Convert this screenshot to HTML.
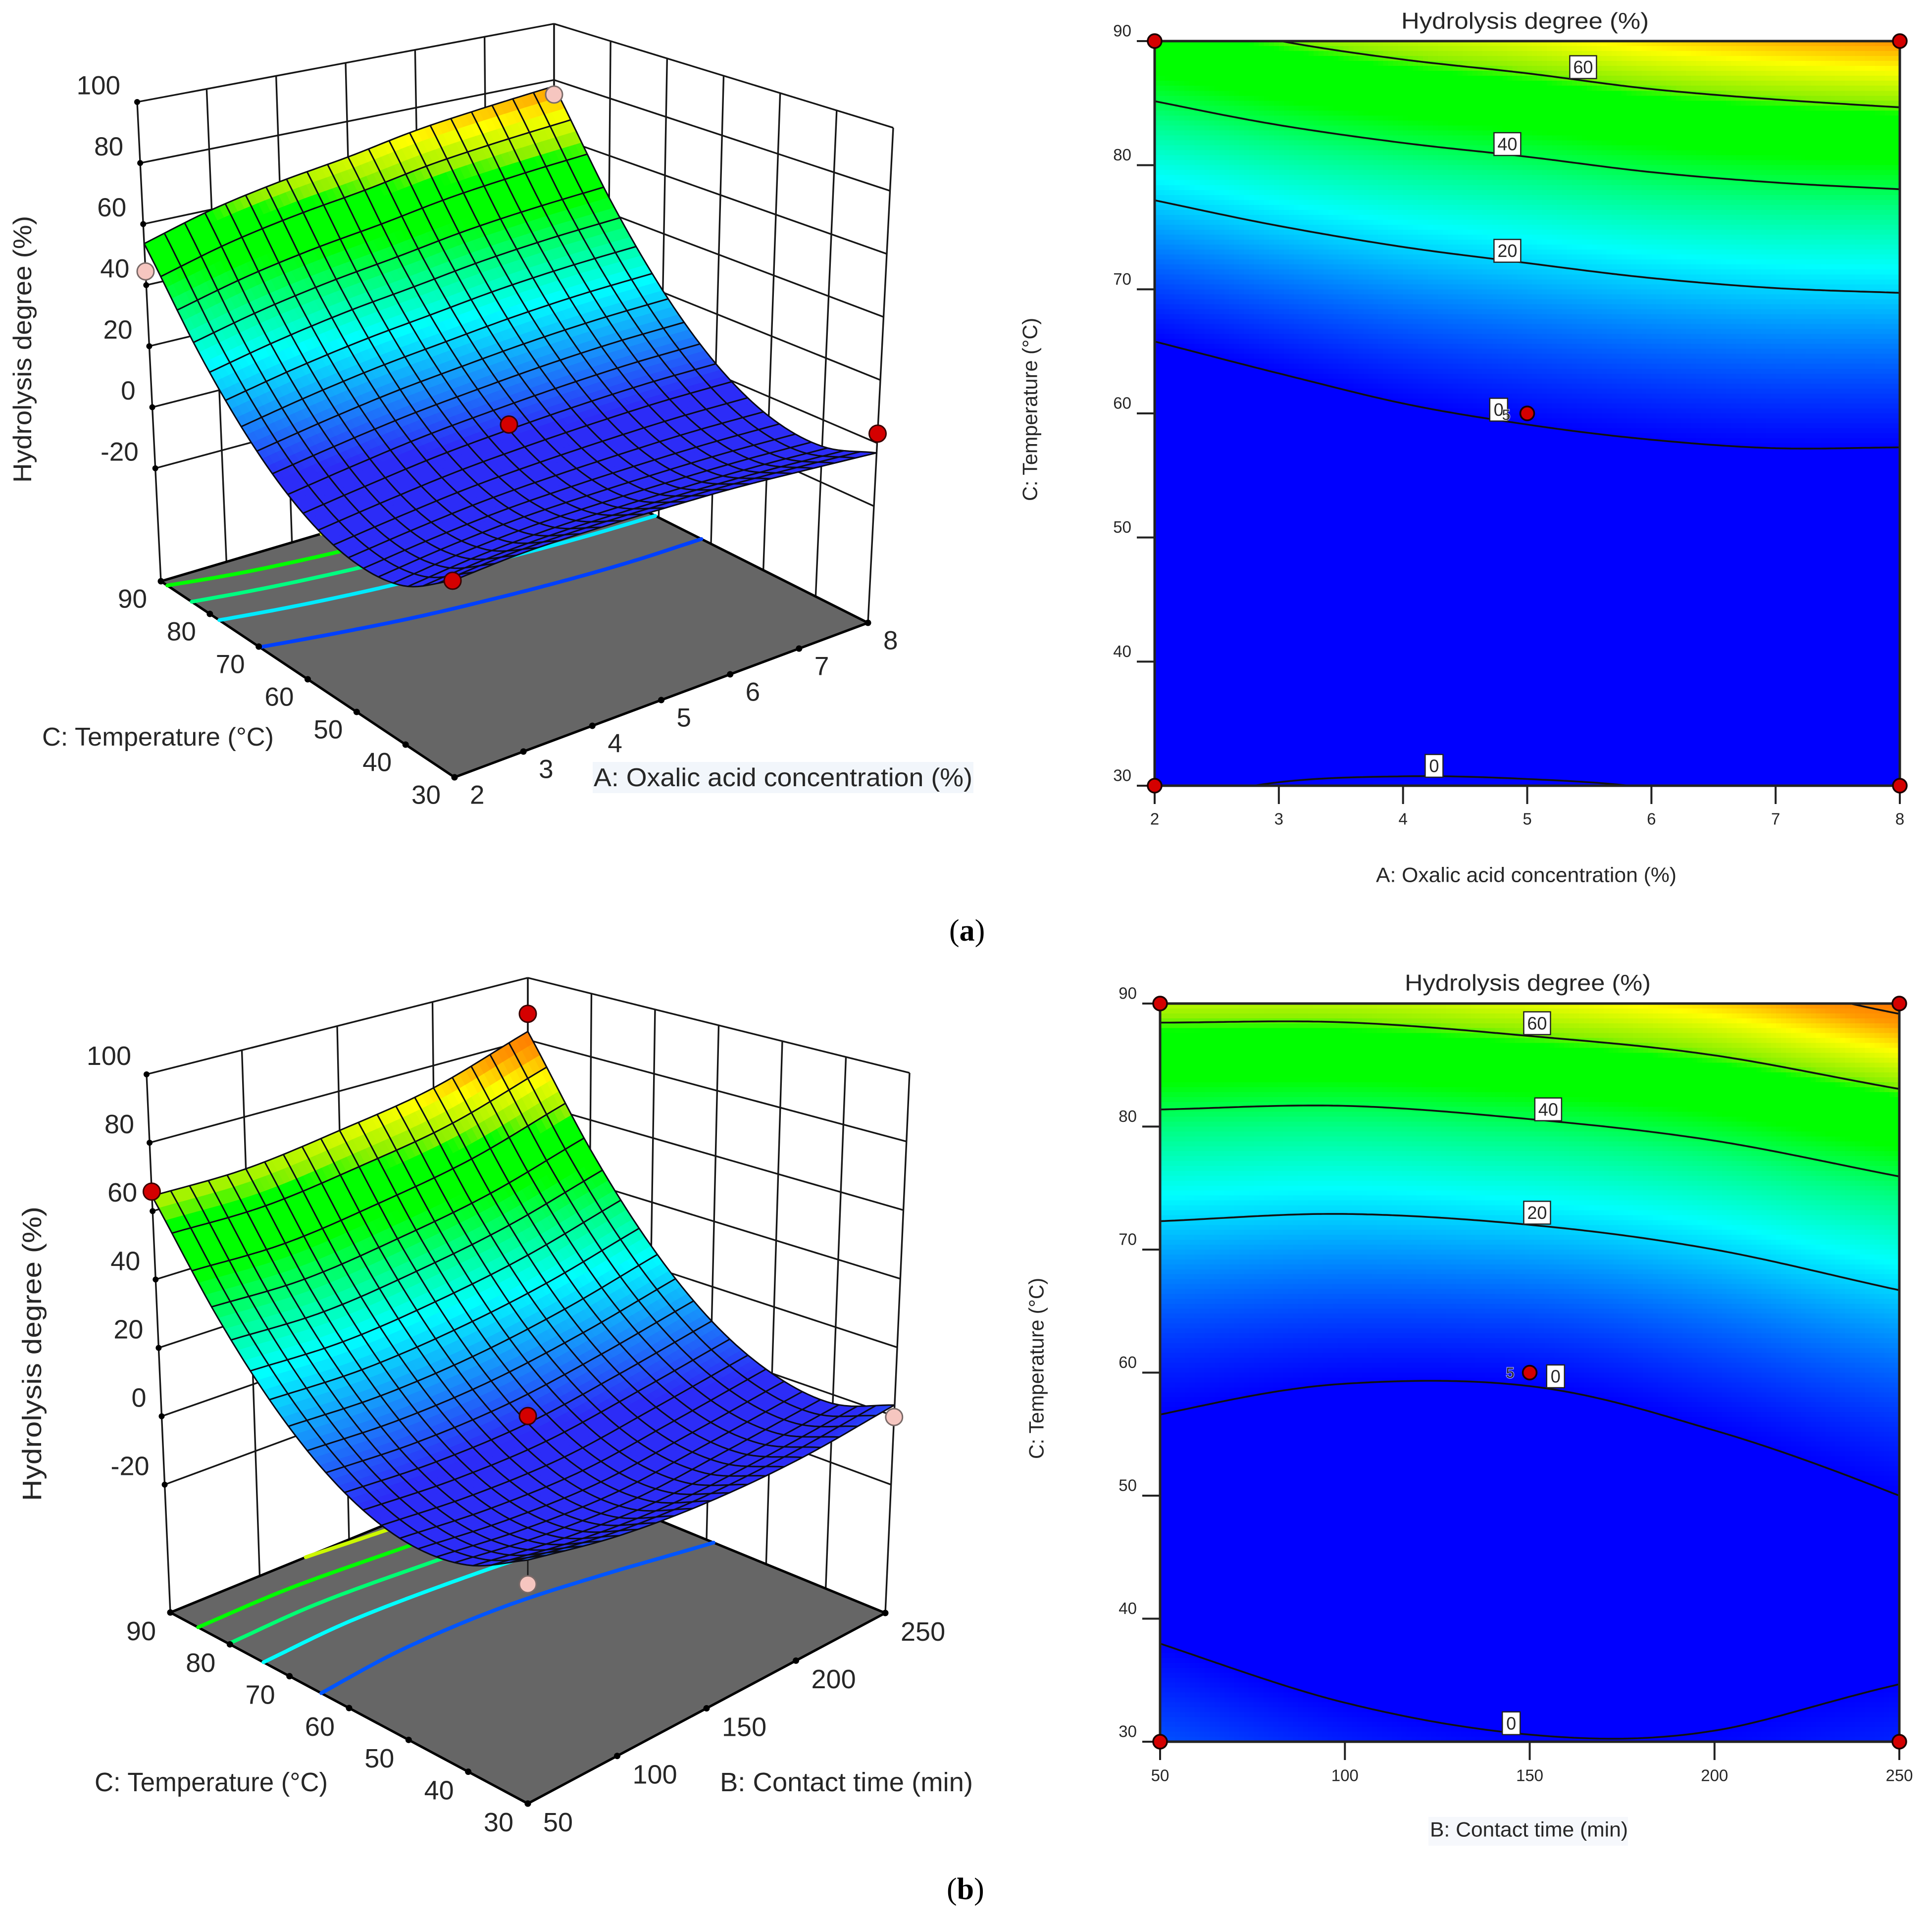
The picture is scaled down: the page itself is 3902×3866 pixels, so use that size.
<!DOCTYPE html>
<html lang="en">
<head>
<meta charset="utf-8">
<title>Hydrolysis degree response surfaces</title>
<style>
  html, body { margin: 0; padding: 0; background: #ffffff; }
  svg { display: block; }
  text { font-family: "Liberation Sans", sans-serif; fill: #262626; }
  .fig-label { font-family: "Liberation Serif", serif; fill: #000; font-size: 62px; }
</style>
</head>
<body>
<svg id="figure" xmlns="http://www.w3.org/2000/svg" width="3902" height="3866" viewBox="0 0 3902 3866">
  <rect x="0" y="0" width="3902" height="3866" fill="#ffffff"/>

  <g id="surface-a">
    <rect x="1197" y="1539" width="769" height="63" fill="#f2f6fb"/>
  </g>
  <text x="85" y="1488" dy=".35em" font-size="52" textLength="468" lengthAdjust="spacingAndGlyphs">C: Temperature (°C)</text>
  <text x="1199" y="1570" dy=".35em" font-size="52" textLength="765" lengthAdjust="spacingAndGlyphs">A: Oxalic acid concentration (%)</text>
  <text transform="translate(45,975) rotate(-90)" dy=".35em" font-size="52" textLength="539" lengthAdjust="spacingAndGlyphs">Hydrolysis degree  (%)</text>

  <g id="contour-a"></g>
  <text x="2830" y="42" dy=".35em" font-size="46" textLength="500" lengthAdjust="spacingAndGlyphs">Hydrolysis degree  (%)</text>
  <text x="2779" y="1767" dy=".35em" font-size="42" textLength="607" lengthAdjust="spacingAndGlyphs">A: Oxalic acid concentration (%)</text>
  <text transform="translate(2080,1012) rotate(-90)" dy=".35em" font-size="42" textLength="370" lengthAdjust="spacingAndGlyphs">C: Temperature (°C)</text>

  <text class="fig-label" x="1917" y="1900">(<tspan font-weight="bold">a</tspan>)</text>

  <g id="surface-b"></g>
  <text x="191" y="3599" dy=".35em" font-size="54" textLength="471" lengthAdjust="spacingAndGlyphs">C: Temperature (°C)</text>
  <text x="1454" y="3599" dy=".35em" font-size="54" textLength="511" lengthAdjust="spacingAndGlyphs">B: Contact time (min)</text>
  <text transform="translate(64,3032) rotate(-90)" dy=".35em" font-size="54" textLength="595" lengthAdjust="spacingAndGlyphs">Hydrolysis degree  (%)</text>

  <rect x="2885" y="3670" width="403" height="58" fill="#f6f8fc"/>
  <g id="contour-b"></g>
  <text x="2837" y="1985" dy=".35em" font-size="46" textLength="497" lengthAdjust="spacingAndGlyphs">Hydrolysis degree  (%)</text>
  <text x="2888" y="3695" dy=".35em" font-size="42" textLength="400" lengthAdjust="spacingAndGlyphs">B: Contact time (min)</text>
  <text transform="translate(2093,2947) rotate(-90)" dy=".35em" font-size="42" textLength="366" lengthAdjust="spacingAndGlyphs">C: Temperature (°C)</text>

  <text class="fig-label" x="1912" y="3836">(<tspan font-weight="bold">b</tspan>)</text>
</svg>

<script>
// ---------- chart data ----------
const temperatureLevels = [30, 40, 50, 60, 70, 80, 90];
const acidLevels = [2, 3, 4, 5, 6, 7, 8];
const timeLevels = [50, 100, 150, 200, 250];
const zTicks = [-20, 0, 20, 40, 60, 80, 100];
const contourLevels = [0, 20, 40, 60, 80];
const floorLevelsAcid = [6, 22, 36, 50, 66];
const floorLevelsTime = [8, 24, 37, 51, 66];

// rows follow temperatureLevels, columns follow acidLevels
const hydrolysisByAcid = [
  [-1.4, 0.25, 0.6, 0.4, -0.15, -1.5, -3.1],
  [-11, -8.5, -7.1, -6.8, -6.9, -7.4, -8.5],
  [-12.4, -9.8, -7.7, -6.6, -6, -5.8, -6.3],
  [-6.6, -3.6, -0.87, 0.98, 2.4, 3.3, 3.4],
  [6.3, 10.1, 13.4, 15.9, 18.2, 19.8, 20.6],
  [26.4, 31.3, 35.2, 38.2, 41.5, 43.8, 45.4],
  [53.6, 59.9, 64.4, 67.9, 72.2, 75.2, 77.8]
];
// rows follow temperatureLevels, columns follow timeLevels
const hydrolysisByTime = [
  [7.66, 2.72, 0.42, 0.52, 3.2],
  [-1.35, -5.08, -6.66, -4.97, -2.6],
  [-2.97, -5.69, -6.4, -3.55, 0],
  [2.79, 0.89, 1.19, 4.77, 9.5],
  [15.9, 14.7, 16.1, 20, 26.4],
  [36.5, 35.6, 38.4, 43, 50.8],
  [64.4, 64.5, 68, 73, 82.7]
];

// design points: factor value, temperature, measured response, below-surface flag
const designPointsAcid = [
  [8, 90, 74.8, 1], [2, 90, 44.5, 1], [5, 60, 2.6, 0], [2, 30, -1.4, 0], [8, 30, 3, 0]
];
const designPointsTime = [
  [250, 90, 88.4, 0], [50, 90, 65.7, 0], [150, 60, 3.3, 0], [50, 30, 1.2, 1], [250, 30, -0.3, 1]
];
const contourDotsAcid = [[2, 90], [8, 90], [2, 30], [8, 30], [5, 60]];
const contourDotsTime = [[50, 90], [250, 90], [50, 30], [250, 30], [150, 60]];

// contour label: factor value, temperature, printed text
const contourLabelsAcid = [
  [5.45, 87.9, "60"], [4.84, 81.7, "40"], [4.84, 73.1, "20"], [4.77, 60.3, "0"], [4.25, 31.6, "0"]
];
const contourLabelsTime = [
  [152, 88.4, "60"], [155, 81.4, "40"], [152, 73, "20"], [157, 59.7, "0"], [145, 31.5, "0"]
];
const replicateNotesAcid = [[4.83, 59.9, "5"]];
const replicateNotesTime = [[144.7, 60, "5"]];

// colour ramp of the response: stop value and rgb triple
const rampValues = [0, 24, 36, 46, 58, 61, 70, 77, 100];
const rampColours = [
  [0, 0, 255], [0, 255, 255], [0, 255, 128], [0, 255, 0], [0, 255, 0],
  [140, 240, 0], [255, 255, 0], [255, 155, 0], [255, 0, 0]
];

// ---------- helpers ----------
const NS = "http://www.w3.org/2000/svg";
function make(tag, attrs, parent, name) {
  const el = document.createElementNS(NS, tag);
  for (const k in attrs) el.setAttribute(k, attrs[k]);
  
  
  parent.appendChild(el);
  return el;
}
function rampRgb(z) {
  if (z <= rampValues[0]) return rampColours[0].slice();
  for (let i = 1; i < rampValues.length; i++) {
    if (z <= rampValues[i]) {
      const t = (z - rampValues[i - 1]) / (rampValues[i] - rampValues[i - 1]);
      const a = rampColours[i - 1], b = rampColours[i];
      return [a[0] + (b[0] - a[0]) * t, a[1] + (b[1] - a[1]) * t, a[2] + (b[2] - a[2]) * t];
    }
  }
  return rampColours[rampColours.length - 1].slice();
}
function css(c) { return "rgb(" + Math.round(c[0]) + "," + Math.round(c[1]) + "," + Math.round(c[2]) + ")"; }
function catmull(p0, p1, p2, p3, t) {
  return 0.5 * (2 * p1 + (p2 - p0) * t + (2 * p0 - 5 * p1 + 4 * p2 - p3) * t * t + (3 * p1 - p0 - 3 * p2 + p3) * t * t * t);
}
function sampler(grid) {
  const rows = grid.length, cols = grid[0].length;
  function at(r, c) {
    if (r < 0) return 2 * at(0, c) - at(1, c);
    if (r >= rows) return 2 * at(rows - 1, c) - at(rows - 2, c);
    if (c < 0) return 2 * at(r, 0) - at(r, 1);
    if (c >= cols) return 2 * at(r, cols - 1) - at(r, cols - 2);
    return grid[r][c];
  }
  return function (u, v) {
    const fc = Math.min(u * (cols - 1), cols - 1 - 1e-9), fr = Math.min(v * (rows - 1), rows - 1 - 1e-9);
    const c = Math.floor(fc), r = Math.floor(fr), tc = fc - c, tr = fr - r;
    const vals = [];
    for (let k = -1; k <= 2; k++) {
      vals.push(catmull(at(r + k, c - 1), at(r + k, c), at(r + k, c + 1), at(r + k, c + 2), tc));
    }
    return catmull(vals[0], vals[1], vals[2], vals[3], tr);
  };
}
function contourPath(f, level, n, map) {
  const vals = [];
  for (let j = 0; j <= n; j++) {
    const row = [];
    for (let i = 0; i <= n; i++) row.push(f(i / n, j / n));
    vals.push(row);
  }
  let d = "";
  for (let j = 0; j < n; j++) {
    for (let i = 0; i < n; i++) {
      const a = vals[j][i], b = vals[j][i + 1], c = vals[j + 1][i + 1], e = vals[j + 1][i];
      const pts = [];
      if ((a < level) !== (b < level)) pts.push([(i + (level - a) / (b - a)) / n, j / n]);
      if ((b < level) !== (c < level)) pts.push([(i + 1) / n, (j + (level - b) / (c - b)) / n]);
      if ((e < level) !== (c < level)) pts.push([(i + (level - e) / (c - e)) / n, (j + 1) / n]);
      if ((a < level) !== (e < level)) pts.push([i / n, (j + (level - a) / (e - a)) / n]);
      for (let k = 0; k + 1 < pts.length; k += 2) {
        const p = map(pts[k][0], pts[k][1]), q = map(pts[k + 1][0], pts[k + 1][1]);
        d += "M" + p[0].toFixed(1) + " " + p[1].toFixed(1) + "L" + q[0].toFixed(1) + " " + q[1].toFixed(1);
      }
    }
  }
  return d;
}

// ---------- 3D surface panel ----------
function drawSurface(cfg) {
  const g = document.getElementById(cfg.id);
  const f = sampler(cfg.grid);
  const xTicks = cfg.xLevels, cTicks = temperatureLevels;
  const xMin = xTicks[0], xMax = xTicks[xTicks.length - 1], cMin = 30, cMax = 90;
  const U = x => (x - xMin) / (xMax - xMin);
  const V = c => (c - cMin) / (cMax - cMin);
  const W = z => (z - cfg.zMin) / (100 - cfg.zMin);
  function project(u, v, w) {
    const c = cfg.corners, out = [0, 0];
    for (let k = 0; k < 2; k++) {
      const base = (1 - u) * (1 - v) * c.F[k] + u * (1 - v) * c.R[k] + (1 - u) * v * c.L[k] + u * v * c.B[k];
      const top = (1 - u) * (1 - v) * c.TF[k] + u * (1 - v) * c.TR[k] + (1 - u) * v * c.TL[k] + u * v * c.TB[k];
      out[k] = base + w * (top - base);
    }
    return out;
  }
  function line(p, q, name, width) {
    return make("line", { x1: p[0], y1: p[1], x2: q[0], y2: q[1], stroke: "#161616", "stroke-width": width || 3.4 }, g, name);
  }
  // back walls
  xTicks.forEach(x => line(project(U(x), 1, 0), project(U(x), 1, 1), "left-wall-gridline"));
  cTicks.forEach(c => line(project(1, V(c), 0), project(1, V(c), 1), "right-wall-gridline"));
  zTicks.forEach(z => {
    line(project(0, 1, W(z)), project(1, 1, W(z)), "left-wall-z-gridline");
    line(project(1, 1, W(z)), project(1, 0, W(z)), "right-wall-z-gridline");
  });
  // floor
  const fl = [project(0, 0, 0), project(1, 0, 0), project(1, 1, 0), project(0, 1, 0)];
  make("polygon", { points: fl.map(p => p.join(",")).join(" "), fill: "#666666", stroke: "#000", "stroke-width": 5, "stroke-linejoin": "round" }, g, "floor-plane");
  cfg.floorLevels.forEach(level => {
    const d = contourPath(f, level, 60, (u, v) => project(u, v, 0));
    make("path", { d: d, fill: "none", stroke: css(rampRgb(level)), "stroke-width": 7.5, "stroke-linecap": "round" }, g, "floor-contour");
  });
  // floor tick dots and labels
  xTicks.forEach(x => {
    const p = project(U(x), 0, 0);
    make("circle", { cx: p[0], cy: p[1], r: 6.5, fill: "#000" }, g, "factor-axis-tick");
    const t = make("text", { x: p[0] + cfg.xLabel[0], y: p[1] + cfg.xLabel[1], dy: ".35em", "font-size": cfg.font, "text-anchor": "start" }, g, "factor-axis-tick-label");
    t.textContent = x;
  });
  cTicks.forEach(c => {
    const p = project(0, V(c), 0);
    make("circle", { cx: p[0], cy: p[1], r: 6.5, fill: "#000" }, g, "temperature-axis-tick");
    const t = make("text", { x: p[0] + cfg.cLabel[0], y: p[1] + cfg.cLabel[1], dy: ".35em", "font-size": cfg.font, "text-anchor": "end" }, g, "temperature-axis-tick-label");
    t.textContent = c;
  });
  zTicks.forEach(z => {
    const p = project(0, 1, W(z));
    make("circle", { cx: p[0], cy: p[1], r: 6, fill: "#000" }, g, "z-axis-tick");
    const t = make("text", { x: p[0] + cfg.zLabel[0], y: p[1] + cfg.zLabel[1], dy: ".35em", "font-size": cfg.font, "text-anchor": "end" }, g, "z-axis-tick-label");
    t.textContent = z;
  });
  // surface, far to near
  const cells = 20, sub = 3, n = cells * sub;
  const surf = make("g", {}, g, "response-surface");
  for (let j = n - 1; j >= 0; j--) {
    for (let i = n - 1; i >= 0; i--) {
      const u0 = i / n, u1 = (i + 1) / n, v0 = j / n, v1 = (j + 1) / n;
      const z00 = f(u0, v0), z10 = f(u1, v0), z11 = f(u1, v1), z01 = f(u0, v1);
      const pts = [project(u0, v0, W(z00)), project(u1, v0, W(z10)), project(u1, v1, W(z11)), project(u0, v1, W(z01))];
      const rgb = rampRgb((z00 + z10 + z11 + z01) / 4);
      const blueness = rgb[2] / 255 * (1 - rgb[1] / 255);
      const col = css([rgb[0] + 44 * blueness, rgb[1] + 44 * blueness, rgb[2] - 8 * blueness]);
      make("polygon", { points: pts.map(p => p[0].toFixed(1) + "," + p[1].toFixed(1)).join(" "), fill: col, stroke: col, "stroke-width": 1 }, surf, "surface-facet");
    }
  }
  // mesh
  for (let a = 0; a <= cells; a++) {
    let d1 = "", d2 = "";
    for (let b = 0; b <= n; b++) {
      const p = project(a / cells, b / n, W(f(a / cells, b / n)));
      const q = project(b / n, a / cells, W(f(b / n, a / cells)));
      d1 += (b ? "L" : "M") + p[0].toFixed(1) + " " + p[1].toFixed(1);
      d2 += (b ? "L" : "M") + q[0].toFixed(1) + " " + q[1].toFixed(1);
    }
    make("path", { d: d1, fill: "none", stroke: "#0a0a14", "stroke-width": 3 }, surf, "surface-mesh-line");
    make("path", { d: d2, fill: "none", stroke: "#0a0a14", "stroke-width": 3 }, surf, "surface-mesh-line");
  }
  // design points
  cfg.points.forEach(pt => {
    const u = U(pt[0]), v = V(pt[1]);
    const p = project(u, v, W(pt[2])), s = project(u, v, W(f(u, v)));
    line(p, s, "design-point-stem", 2.8);
    make("circle", { cx: p[0], cy: p[1], r: 17, fill: pt[3] ? "#f6c6c0" : "#d40000", stroke: pt[3] ? "#7a6a68" : "#3a0000", "stroke-width": 3 }, g, "design-point");
  });
}

// ---------- 2D contour panel ----------
function drawContour(cfg) {
  const g = document.getElementById(cfg.id);
  const f = sampler(cfg.grid);
  const xTicks = cfg.xLevels, cTicks = temperatureLevels;
  const xMin = xTicks[0], xMax = xTicks[xTicks.length - 1];
  const box = cfg.box;
  const X = x => box.x0 + (x - xMin) / (xMax - xMin) * (box.x1 - box.x0);
  const Y = c => box.y1 - (c - 30) / 60 * (box.y1 - box.y0);
  const uv = (u, v) => [box.x0 + u * (box.x1 - box.x0), box.y1 - v * (box.y1 - box.y0)];
  // heat map, merged into horizontal runs of the same colour
  const heat = make("g", { "shape-rendering": "crispEdges" }, g, "heatmap");
  const N = 150;
  const cw = (box.x1 - box.x0) / N, ch = (box.y1 - box.y0) / N;
  for (let j = 0; j < N; j++) {
    let start = 0, cur = null;
    for (let i = 0; i <= N; i++) {
      const col = i < N ? css(rampRgb(f((i + 0.5) / N, 1 - (j + 0.5) / N))) : null;
      if (col !== cur) {
        if (cur !== null) {
          make("rect", { x: box.x0 + start * cw, y: box.y0 + j * ch, width: (i - start) * cw + 0.6, height: ch + 0.6, fill: cur }, heat, "heatmap-cell");
        }
        start = i;
        cur = col;
      }
    }
  }
  // contours
  contourLevels.forEach(level => {
    const d = contourPath(f, level, 150, uv);
    make("path", { d: d, fill: "none", stroke: "#111", "stroke-width": 3.6, "stroke-linecap": "round" }, g, "contour-line");
  });
  // frame and ticks
  make("rect", { x: box.x0, y: box.y0, width: box.x1 - box.x0, height: box.y1 - box.y0, fill: "none", stroke: "#222", "stroke-width": 5 }, g, "plot-frame");
  xTicks.forEach(x => {
    make("line", { x1: X(x), y1: box.y1, x2: X(x), y2: box.y1 + 37, stroke: "#222", "stroke-width": 4 }, g, "x-axis-tick");
    const t = make("text", { x: X(x), y: box.y1 + cfg.xLabelDy, dy: ".35em", "font-size": 33, "text-anchor": "middle" }, g, "x-axis-tick-label");
    t.textContent = x;
  });
  cTicks.forEach(c => {
    make("line", { x1: box.x0 - 36, y1: Y(c), x2: box.x0, y2: Y(c), stroke: "#222", "stroke-width": 4 }, g, "y-axis-tick");
    const t = make("text", { x: box.x0 - 47, y: Y(c) - 21, dy: ".35em", "font-size": 33, "text-anchor": "end" }, g, "y-axis-tick-label");
    t.textContent = c;
  });
  // contour labels
  cfg.labels.forEach(l => {
    const w = l[2].length > 1 ? 54 : 36, h = 46;
    make("rect", { x: X(l[0]) - w / 2, y: Y(l[1]) - h / 2, width: w, height: h, fill: "#fff", stroke: "#222", "stroke-width": 2.5 }, g, "contour-label-box");
    const t = make("text", { x: X(l[0]), y: Y(l[1]), dy: ".35em", "font-size": 36, "text-anchor": "middle" }, g, "contour-label");
    t.textContent = l[2];
  });
  cfg.notes.forEach(l => {
    const t = make("text", { x: X(l[0]), y: Y(l[1]), dy: ".35em", "font-size": 30, "text-anchor": "middle", stroke: "rgba(255,255,255,0.55)", "stroke-width": 3, "paint-order": "stroke" }, g, "replicate-count");
    t.textContent = l[2];
  });
  cfg.dots.forEach(d => {
    make("circle", { cx: X(d[0]), cy: Y(d[1]), r: 14, fill: "#d40000", stroke: "#1a0000", "stroke-width": 3.5 }, g, "design-point");
  });
}

drawSurface({
  id: "surface-a", grid: hydrolysisByAcid, xLevels: acidLevels, zMin: -57, font: 53, floorLevels: floorLevelsAcid,
  corners: { F: [918, 1570], R: [1753, 1258], L: [325, 1174], B: [1119, 939], TF: [907, 449], TR: [1804, 258], TL: [277, 206], TB: [1119, 48] },
  xLabel: [31, 35], cLabel: [-28, 35], zLabel: [-34, -34], points: designPointsAcid
});
drawSurface({
  id: "surface-b", grid: hydrolysisByTime, xLevels: timeLevels, zMin: -57.4, font: 54, floorLevels: floorLevelsTime,
  corners: { F: [1066, 3643], R: [1788, 3258], L: [344, 3257], B: [1066, 2962], TF: [1066, 2453], TR: [1837, 2167], TL: [296, 2170], TB: [1066, 1975] },
  xLabel: [31, 37], cLabel: [-29, 37], zLabel: [-31, -38], points: designPointsTime
});
drawContour({
  id: "contour-a", grid: hydrolysisByAcid, xLevels: acidLevels,
  box: { x0: 2332, x1: 3837, y0: 83, y1: 1587 }, xLabelDy: 67,
  labels: contourLabelsAcid, notes: replicateNotesAcid, dots: contourDotsAcid
});
drawContour({
  id: "contour-b", grid: hydrolysisByTime, xLevels: timeLevels,
  box: { x0: 2343, x1: 3836, y0: 2027, y1: 3518 }, xLabelDy: 68,
  labels: contourLabelsTime, notes: replicateNotesTime, dots: contourDotsTime
});
</script>
</body>
</html>
